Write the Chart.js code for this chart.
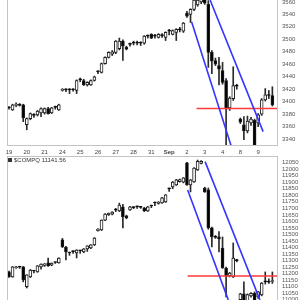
<!DOCTYPE html>
<html>
<head>
<meta charset="utf-8">
<script src="https://cdn.jsdelivr.net/npm/chart.js@4.4.0/dist/chart.umd.min.js"></script>
<style>
  body { margin: 0; background: #fff; }
  #wrap { position: relative; width: 300px; height: 300px; overflow: hidden; }
  canvas { position: absolute; left: 0; }
  #lg { position: absolute; left: 8px; top: 157px; font: 6px "Liberation Sans", Arial, sans-serif; color: #333; white-space: nowrap; }
  #lg span { display: inline-block; width: 4px; height: 4px; background: #333; margin-right: 2px; }
</style>
</head>
<body>
<div id="wrap">
  <canvas id="top" width="300" height="156" style="top:0"></canvas>
  <canvas id="bot" width="300" height="144" style="top:156px"></canvas>
  <div id="lg"><span></span>$COMPQ 11141.56</div>
</div>
<script>
// trading days shown on the x axis, 5 bars per day
var days = ['19','20','21','24','25','26','27','28','31','Sep','2','3','4','8','9'];
var barsPerDay = 5;

// upper panel (S&P 500)
var spxOpen  = [3390,3387,3394,3396,3395, 3363,3373,3378,3379,3382, 3382,3389,3382,3391,3387,
                3418,3419,3419,3419,3418, 3435,3434,3427,3427,3434, 3448,3447,3461,3471,3476,
                3479,3485,3497,3487,3492, 3494,3494,3494,3494,3505, 3508,3505,3503,3506,3503,
                3513,3508,3511,3515,3513, 3542,3540,3548,3555,3560, 3564,3556,3479,3466,3458,
                3450,3434,3390,3405,3425, 3372,3363,3353,3366,3370, 3366,3380,3403,3410,3410];
var spxHigh  = [3392,3396,3398,3397,3396, 3374,3382,3381,3386,3390, 3390,3391,3391,3393,3396,
                3421,3421,3421,3421,3435, 3438,3436,3432,3435,3441, 3450,3462,3472,3480,3482,
                3498,3502,3499,3489,3494, 3497,3497,3496,3506,3507, 3509,3508,3509,3509,3512,
                3516,3515,3517,3519,3527, 3545,3549,3566,3570,3568, 3570,3562,3482,3470,3471,
                3463,3437,3408,3456,3428, 3374,3376,3377,3375,3372, 3381,3405,3421,3418,3424];
var spxLow   = [3388,3386,3392,3393,3368, 3355,3371,3375,3377,3376, 3380,3380,3381,3388,3386,
                3417,3416,3413,3417,3413, 3432,3426,3425,3426,3433, 3445,3446,3460,3470,3474,
                3477,3483,3466,3483,3489, 3491,3491,3490,3492,3502, 3501,3502,3502,3503,3498,
                3507,3507,3498,3512,3511, 3535,3527,3546,3553,3557, 3556,3455,3445,3458,3427,
                3428,3324,3386,3402,3420, 3365,3339,3350,3362,3327, 3360,3378,3401,3405,3393];
var spxClose = [3390,3395,3396,3394,3374, 3373,3381,3378,3385,3389, 3389,3381,3390,3391,3395,
                3420,3419,3419,3419,3434, 3435,3427,3431,3434,3440, 3448,3461,3471,3479,3480,
                3497,3497,3489,3484,3492, 3494,3494,3494,3505,3505, 3502,3505,3508,3506,3511,
                3513,3514,3516,3515,3526, 3537,3548,3563,3563,3565, 3558,3479,3465,3460,3452,
                3431,3389,3406,3426,3425, 3367,3353,3369,3372,3330, 3379,3403,3411,3410,3395];
var spxTicks = [3340,3360,3380,3400,3420,3440,3460,3480,3500,3520,3540,3560];
var spxChannelA = [{x: 51.3, y: 3528}, {x: 62.6, y: 3326}];
var spxChannelB = [{x: 56.5, y: 3563}, {x: 71.4, y: 3352}];
var spxSupport  = [{x: 52.7, y: 3389}, {x: 75.3, y: 3389}];

// lower panel ($COMPQ)
var compOpen  = [11213,11175,11245,11250,11252, 11100,11175,11220,11213,11252, 11262,11282,11265,11285,11282,
                 11458,11404,11358,11368,11358, 11375,11366,11389,11397,11420, 11530,11535,11610,11652,11656,
                 11687,11680,11711,11642,11688, 11706,11711,11708,11703,11680, 11718,11741,11738,11741,11749,
                 11849,11864,11879,11905,11900, 12048,11879,11902,11994,12045, 11856,11841,11550,11485,11481,
                 11396,11243,11182,11175,11300, 11000,11045,10990,11030,11050, 11022,11037,11137,11135,11140];
var compHigh  = [11220,11255,11256,11256,11255, 11192,11232,11224,11262,11276, 11278,11320,11282,11290,11322,
                 11470,11410,11365,11375,11384, 11380,11392,11414,11422,11476, 11545,11612,11660,11665,11675,
                 11700,11740,11730,11648,11715, 11712,11720,11715,11708,11715, 11725,11750,11752,11785,11806,
                 11855,11906,11922,11925,11936, 12052,11922,12012,12070,12066, 11862,11856,11556,11492,11522,
                 11481,11250,11210,11435,11310, 11050,11137,11045,11055,11060, 11065,11132,11213,11160,11213];
var compLow   = [11170,11172,11240,11240,11137, 11090,11170,11205,11210,11235, 11255,11255,11260,11278,11280,
                 11400,11305,11340,11355,11320, 11355,11360,11370,11392,11415, 11525,11530,11605,11645,11650,
                 11675,11675,11550,11620,11685, 11698,11700,11700,11675,11676, 11705,11720,11732,11738,11745,
                 11830,11850,11875,11900,11895, 11875,11826,11898,11990,12040, 11822,11540,11404,11470,11366,
                 11240,11022,11175,11170,11290, 10990,10970,10975,11020,10940, 11010,11030,11120,11125,11125];
var compClose = [11175,11252,11252,11250,11152, 11190,11228,11220,11259,11274, 11276,11259,11280,11285,11320,
                 11404,11366,11358,11368,11381, 11375,11390,11412,11420,11473, 11540,11610,11656,11662,11672,
                 11687,11726,11634,11627,11711, 11706,11711,11708,11680,11711, 11718,11741,11748,11780,11803,
                 11849,11902,11918,11920,11933, 11879,11918,12008,12060,12060, 11826,11550,11481,11478,11466,
                 11243,11182,11205,11320,11300, 11045,10980,11040,11050,10950, 11060,11128,11137,11135,11141.56];
var compTicks = [11000,11050,11100,11150,11200,11250,11300,11350,11400,11450,11500,11550,11600,11650,
                 11700,11750,11800,11850,11900,11950,12000,12050];
var compChannelA = [{x: 50.2, y: 11841}, {x: 61.6, y: 10999}];
var compChannelB = [{x: 55.1, y: 12058}, {x: 70.5, y: 10999}];
var compSupport  = [{x: 50.2, y: 11182}, {x: 75.3, y: 11182}];

Chart.defaults.font.family = '"Liberation Sans", Arial, sans-serif';
Chart.defaults.font.size = 6;
Chart.defaults.color = '#444';

// light grey frame around the plot, sides chosen per panel
function frame(sides) {
  return {
    id: 'frame',
    afterDraw: function (chart) {
      var a = chart.chartArea, ctx = chart.ctx;
      ctx.save();
      ctx.strokeStyle = '#c4c4c4';
      ctx.lineWidth = 1;
      ctx.beginPath();
      if (sides.indexOf('l') >= 0) { ctx.moveTo(a.left + 0.5, a.top); ctx.lineTo(a.left + 0.5, a.bottom); }
      if (sides.indexOf('r') >= 0) { ctx.moveTo(a.right + 0.5, a.top); ctx.lineTo(a.right + 0.5, a.bottom); }
      if (sides.indexOf('t') >= 0) { ctx.moveTo(a.left, a.top + 0.5); ctx.lineTo(a.right, a.top + 0.5); }
      if (sides.indexOf('b') >= 0) { ctx.moveTo(a.left, a.bottom - 0.5); ctx.lineTo(a.right, a.bottom - 0.5); }
      ctx.stroke();
      ctx.restore();
    }
  };
}

function lineSet(pts, color) {
  return { type: 'line', data: pts, borderColor: color, borderWidth: 1.6, pointRadius: 0, tension: 0, order: 0 };
}

function panel(id, op, hi, lo, cl, yMin, yMax, yTicks, lines, showX, sides) {
  var bodies = [], wicks = [], fills = [];
  for (var i = 0; i < op.length; i++) {
    bodies.push({ x: i, y: [op[i], cl[i]] });
    wicks.push({ x: i, y: [lo[i], hi[i]] });
    fills.push(cl[i] > op[i] ? '#ffffff' : '#000000');
  }
  var datasets = [
    { type: 'bar', data: bodies, backgroundColor: fills, borderColor: '#1e1e1e', borderWidth: 1,
      borderSkipped: false, barThickness: 3, minBarLength: 1, grouped: false, order: 1 },
    { type: 'bar', data: wicks, backgroundColor: '#2a2a2a', borderWidth: 0,
      barThickness: 1, grouped: false, order: 2 }
  ].concat(lines);

  return new Chart(document.getElementById(id), {
    type: 'bar',
    data: { datasets: datasets },
    plugins: [frame(sides)],
    options: {
      responsive: false,
      animation: false,
      layout: { padding: { left: 7, right: 0, top: 0, bottom: 0 } },
      plugins: { legend: { display: false }, tooltip: { enabled: false } },
      scales: {
        x: {
          type: 'linear',
          display: showX,
          offset: false,
          min: -0.56,
          max: 75.3,
          grid: { display: false, drawTicks: false },
          border: { display: false },
          afterBuildTicks: function (ax) {
            ax.ticks = days.map(function (d, k) { return { value: k * barsPerDay }; });
          },
          afterFit: function (ax) {
            if (showX) ax.height = 10;
            ax.paddingLeft = 0; ax.paddingRight = 0;
          },
          ticks: {
            autoSkip: false, maxRotation: 0, minRotation: 0, padding: 3, color: '#444',
            font: function (c) { return { size: 6, weight: days[c.index] === 'Sep' ? 'bold' : 'normal' }; },
            callback: function (v, i) { return days[i]; }
          }
        },
        y: {
          position: 'right',
          min: yMin,
          max: yMax,
          grid: { display: false, drawTicks: false },
          border: { display: false },
          afterBuildTicks: function (ax) {
            ax.ticks = yTicks.map(function (v) { return { value: v }; });
          },
          afterFit: function (ax) { ax.width = 23; ax.paddingTop = 0; ax.paddingBottom = 0; },
          ticks: { autoSkip: false, padding: 5, color: '#555', callback: function (v) { return String(v); } }
        }
      }
    }
  });
}

panel('top', spxOpen, spxHigh, spxLow, spxClose, 3329, 3563, spxTicks,
      [lineSet(spxChannelA, '#3535ff'), lineSet(spxChannelB, '#3535ff'), lineSet(spxSupport, '#ff3a3a')],
      true, 'lrb');

panel('bot', compOpen, compHigh, compLow, compClose, 10998, 12101, compTicks,
      [lineSet(compChannelA, '#3535ff'), lineSet(compChannelB, '#3535ff'), lineSet(compSupport, '#ff3a3a')],
      false, 'lrt');
</script>
</body>
</html>
